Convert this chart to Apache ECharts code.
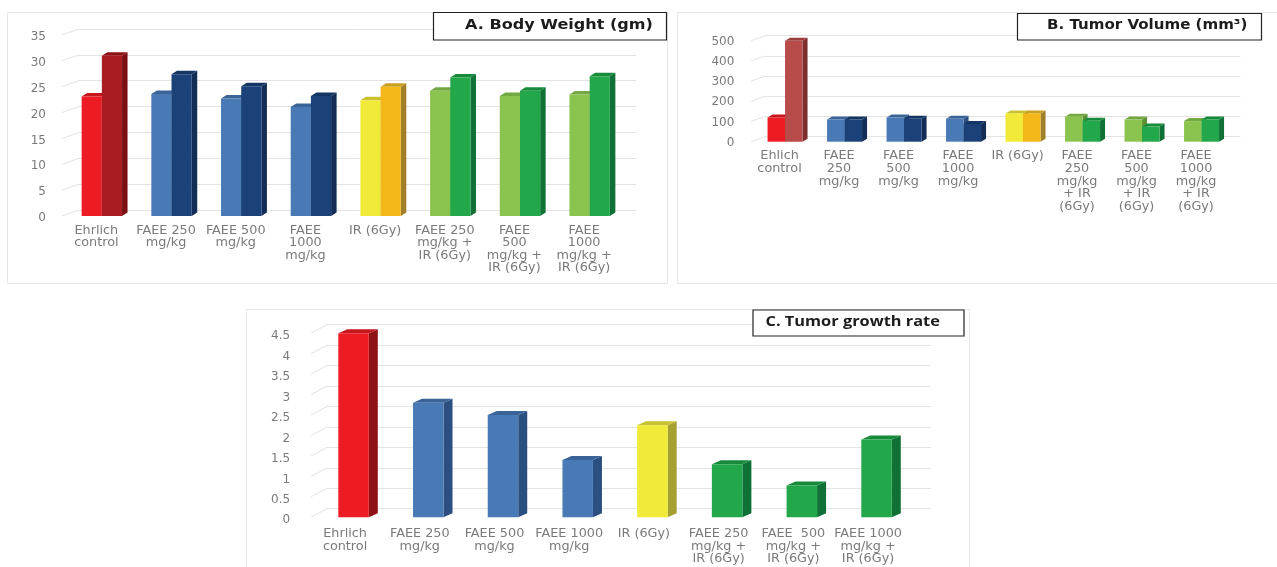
<!DOCTYPE html>
<html><head><meta charset="utf-8">
<style>html,body{margin:0;padding:0;background:#fff}#c{width:1277px;height:567px}</style>
<script src="https://cdn.jsdelivr.net/npm/echarts@6/dist/echarts.min.js"></script>
</head><body><div id="c"></div>
<script>
var catsA = ['Ehrlich\ncontrol','FAEE 250\nmg/kg','FAEE 500\nmg/kg','FAEE\n1000\nmg/kg','IR (6Gy)','FAEE 250\nmg/kg +\nIR (6Gy)','FAEE\n500\nmg/kg +\nIR (6Gy)','FAEE\n1000\nmg/kg +\nIR (6Gy)'];
var catsB = ['Ehlich\ncontrol','FAEE\n250\nmg/kg','FAEE\n500\nmg/kg','FAEE\n1000\nmg/kg','IR (6Gy)','FAEE\n250\nmg/kg\n+ IR\n(6Gy)','FAEE\n500\nmg/kg\n+ IR\n(6Gy)','FAEE\n1000\nmg/kg\n+ IR\n(6Gy)'];
var catsC = ['Ehrlich\ncontrol','FAEE 250\nmg/kg','FAEE 500\nmg/kg','FAEE 1000\nmg/kg','IR (6Gy)','FAEE 250\nmg/kg +\nIR (6Gy)','FAEE  500\nmg/kg +\nIR (6Gy)','FAEE 1000\nmg/kg +\nIR (6Gy)'];
var weightBefore = [23.1,23.6,22.7,21.1,22.4,24.2,23.2,23.5];
var weightAfter  = [31,27.4,25.1,23.2,25,26.8,24.2,27];
var volumeBefore = [120,110,120,113,140,124,110,102];
var volumeAfter  = [500,110,113,88,140,104,75,110];
var growthRate   = [4.5,2.8,2.5,1.4,2.25,1.3,0.78,1.9];
var titles = ['A. Body Weight (gm)','B. Tumor Volume (mm³)','C. Tumor growth rate'];

var RED=['#ed1c24','#8f1216','#c5171d'], BRICK=['#a91d22','#7a1013','#8f1216'], BRICK2=['#b84c4a','#7c2f2e','#9c3e3c'];
var BLUE=['#4a7ab5','#2b4f80','#3a6497'], NAVY=['#1a4178','#132d56','#153665'];
var YEL=['#f1ea38','#a5a030','#c8c230'], ORG=['#f5b81a','#a0812a','#c9a020'];
var LGR=['#8bc34f','#5f9036','#74a842'], GRN=['#22a84a','#0f7136','#178a3c'];
var leftColors=[RED,BLUE,BLUE,BLUE,YEL,LGR,LGR,LGR];
var rightColorsA=[BRICK,NAVY,NAVY,NAVY,ORG,GRN,GRN,GRN];
var rightColorsB=[BRICK2,NAVY,NAVY,NAVY,ORG,GRN,GRN,GRN];
var singleColors=[RED,BLUE,BLUE,BLUE,YEL,GRN,GRN,GRN];

// layout of each panel (pixels)
var panels=[
 {l:67,r:624.5,t:35,b:216,wx:79,wr:636,wdy:6,ax:62,max:35,iv:5,cats:catsA,bw:20.2,dx:5.5,dy:3.5,xm:8,yLabM:21,yLabLH:4,xShift:11},
 {l:755.3,r:1231.3,t:40.7,b:141.7,wx:765,wr:1240.5,wdy:5,ax:751,max:500,iv:100,cats:catsB,bw:17.5,dx:5,dy:3,xm:8,yLabM:21,yLabLH:2,xShift:11},
 {l:316.2,r:913.9,t:333.3,b:517.3,wx:327,wr:931,wdy:8.6,ax:311,max:4.5,iv:0.5,cats:catsC,bw:30.5,dx:9,dy:4,xm:10,yLabM:26,yLabLH:6,xShift:17}
];
var W=1277,H=567,GRID='#e3e3e3',TXT='#7a7a7a',FONT='"DejaVu Sans"';

function barItem(p,colors,shift){
  return function(params,api){
    var i=api.value(0), v=api.value(1);
    var top=api.coord([i,v]), base=api.coord([i,0]);
    var x0=top[0]+shift*p.bw, x1=x0+p.bw, yt=top[1], yb=base[1];
    var c=colors[i], dx=p.dx, dy=p.dy;
    return {type:'group',children:[
      {type:'polygon',shape:{points:[[x1,yb],[x1+dx,yb-dy],[x1+dx,yt-dy],[x1,yt]]},style:{fill:c[1]}},
      {type:'polygon',shape:{points:[[x0,yt],[x0+dx,yt-dy],[x1+dx,yt-dy],[x1,yt]]},style:{fill:c[2]}},
      {type:'rect',shape:{x:x0,y:yt,width:p.bw,height:yb-yt},style:{fill:c[0]}}
    ]};
  };
}
function barSeries(idx,p,vals,colors,shift){
  return {type:'custom',xAxisIndex:idx*2,yAxisIndex:idx*2,clip:false,z:5,
    renderItem:barItem(p,colors,shift),encode:{x:0,y:1},
    data:vals.map(function(v,i){return [i,v];}),silent:true};
}
function tickSeries(idx,p){
  var d=[];for(var k=0;k<=Math.round(p.max/p.iv);k++)d.push([0,k*p.iv]);
  return {type:'custom',xAxisIndex:idx*2,yAxisIndex:idx*2,clip:false,z:3,silent:true,encode:{y:1},
    renderItem:function(params,api){
      var y=api.coord([0,api.value(1)])[1];
      return {type:'line',shape:{x1:p.ax,y1:y,x2:p.wx,y2:y-p.wdy},style:{stroke:GRID,lineWidth:1}};
    },data:d};
}
var grids=[],xs=[],ys=[],series=[];
panels.forEach(function(p){
  grids.push({left:p.l,width:p.r-p.l,top:p.t,height:p.b-p.t});
  grids.push({left:p.wx,width:p.wr-p.wx,top:p.t-p.wdy,height:p.b-p.t});
  var gi=grids.length-2;
  xs.push({type:'category',gridIndex:gi,data:p.cats,axisLine:{show:false},axisTick:{show:false},splitLine:{show:false},
    axisLabel:{interval:0,color:TXT,fontFamily:FONT,fontSize:12.8,lineHeight:12.6,margin:p.xm,padding:[0,p.xShift,0,0],hideOverlap:false}});
  xs.push({type:'category',gridIndex:gi+1,show:false,data:p.cats});
  ys.push({type:'value',gridIndex:gi,min:0,max:p.max,interval:p.iv,splitLine:{show:false},axisLine:{show:false},axisTick:{show:false},
    axisLabel:{color:TXT,fontFamily:FONT,fontSize:12,margin:p.yLabM,verticalAlign:'top',lineHeight:p.yLabLH}});
  ys.push({type:'value',gridIndex:gi+1,min:0,max:p.max,interval:p.iv,axisLabel:{show:false},axisLine:{show:false},axisTick:{show:false},
    splitLine:{show:true,lineStyle:{color:GRID,width:1}}});
});
series.push(tickSeries(0,panels[0]),tickSeries(1,panels[1]),tickSeries(2,panels[2]));
series.push(barSeries(0,panels[0],weightBefore,leftColors,-1));
series.push(barSeries(0,panels[0],weightAfter,rightColorsA,0));
series.push(barSeries(1,panels[1],volumeBefore,leftColors,-1));
series.push(barSeries(1,panels[1],volumeAfter,rightColorsB,0));
series.push(barSeries(2,panels[2],growthRate,singleColors,-0.5));

function frame(x,y,w,h){return {type:'rect',silent:true,z:0,shape:{x:x,y:y,width:w,height:h},style:{fill:'#fff',stroke:'#e6e6e6',lineWidth:1}};}
function titleBox(x,y,w,h,text,tx,ty,font,size,sx){return [
  {type:'rect',silent:true,z:20,shape:{x:x,y:y,width:w,height:h},style:{fill:'#fff',stroke:'#222',lineWidth:1.2}},
  {type:'text',silent:true,z:21,x:tx,y:ty,scaleX:sx,style:{x:0,y:0,text:text,fill:'#1c1c1c',font:'bold '+size+'px '+font,textVerticalAlign:'middle',textBaseline:'middle'}}
];}
var graphics=[frame(7.5,12.5,660,271),frame(677.5,12.5,610,271),frame(246.5,309.5,723,270)]
 .concat(titleBox(433.5,12.5,233,27.5,titles[0],465,25,'"DejaVu Sans"',14,1.147))
 .concat(titleBox(1017.5,13.5,244,26.5,titles[1],1047,25.5,'"DejaVu Sans"',14,1.075))
 .concat(titleBox(753,310,211,26,titles[2],765.5,322,'"Open Sans"',15,1.09));

var chart=echarts.init(document.getElementById('c'),null,{renderer:'canvas',width:W,height:H});
chart.setOption({animation:false,backgroundColor:'#fff',grid:grids,xAxis:xs,yAxis:ys,series:series,graphic:{elements:graphics}});
</script></body></html>
